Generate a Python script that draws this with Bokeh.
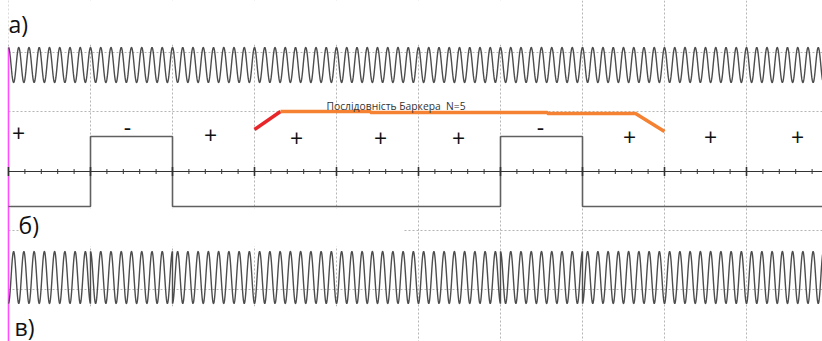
import numpy as np
from bokeh.plotting import figure
from bokeh.models import Range1d
from bokeh.core.properties import value
from bokeh.embed import file_html
from bokeh.resources import INLINE

# ---------------- data ----------------
symbols = [1, -1, 1, 1, 1, 1, -1, 1, 1, 1]          # +1 = "+", -1 = "-"
symbol_text = ["+", "-", "+", "+", "+", "+", "-", "+", "+", "+"]
cycles_per_bit = 8
n_bits = 10
minor_per_bit = 5
barker_start, barker_end = 3, 8
barker_title = "Послідовність Баркера\u00a0\u00a0N=5"
panel_labels = ["а)", "б)", "в)"]

# ---------------- layout (pixels) ----------------
PX_PER_BIT = 82.0
X0 = 8.0
W, H = 822, 341
def bx(px):  # pixel x -> bit units
    return (px - X0) / PX_PER_BIT

p = figure(width=W, height=H, output_backend="svg", toolbar_location=None,
           x_range=Range1d(bx(0), bx(W)), y_range=Range1d(H, 0),
           min_border=0, outline_line_color=None)
p.axis.visible = False
p.grid.visible = False
p.background_fill_color = "white"

grid_col = "#b5b5b5"
# vertical dotted grid
gx = np.arange(0, n_bits + 1)
p.segment(x0=gx, y0=[0] * len(gx), x1=gx, y1=[345] * len(gx),
          line_color=grid_col, line_dash="2 2", line_width=1)
# horizontal dotted grid
for gy in [52, 111, 230, 289]:
    p.segment(x0=[0], y0=[gy], x1=[12], y1=[gy], line_color=grid_col, line_dash="2 2", line_width=1)

# white label boxes covering grid
p.quad(left=[bx(8)], right=[bx(540)], top=[0], bottom=[44], fill_color="white", line_color=None)
p.quad(left=[bx(19)], right=[bx(403)], top=[208], bottom=[246], fill_color="white", line_color=None)
p.quad(left=[bx(8)], right=[bx(412)], top=[306], bottom=[345], fill_color="white", line_color=None)

# magenta marker
p.segment(x0=[0], y0=[47], x1=[0], y1=[345], line_color="#ff4dff", line_width=1.6)

wave_col = "#4d4d4d"
# a) carrier
t = np.linspace(0, bx(W), 4000)
ya = 64.5 - 17.5 * np.cos(2 * np.pi * cycles_per_bit * t)
p.line(t, ya, line_color=wave_col, line_width=1.4)

# б) modulating square wave
sq_x, sq_y = [], []
for i, s in enumerate(symbols):
    lvl = 206 if s > 0 else 136
    sq_x += [i, i + 1]
    sq_y += [lvl, lvl]
p.line(sq_x, sq_y, line_color="#606060", line_width=1.6)

# axis line with ticks
p.segment(x0=[0], y0=[171], x1=[bx(W)], y1=[171], line_color="#333333", line_width=1)
mx = np.arange(0, n_bits * minor_per_bit + 1) / minor_per_bit
major = (np.arange(len(mx)) % minor_per_bit) == 0
p.segment(x0=mx, y0=np.where(major, 166.5, 168.5), x1=mx, y1=np.where(major, 175.5, 173.5),
          line_color="#333333", line_width=np.where(major, 1.6, 1.0).tolist())

# в) phase-modulated signal
vx, vy = [], []
for i, s in enumerate(symbols):
    tt = np.linspace(i, i + 1, 400)
    vx.append(tt)
    vy.append(277 + 26 * s * np.cos(2 * np.pi * cycles_per_bit * tt))
vx = np.concatenate(vx); vy = np.concatenate(vy)
p.line(vx, vy, line_color=wave_col, line_width=1.4)

# Barker bracket
p.line([barker_start, bx(280)], [129, 111], line_color="#e8262a", line_width=3.5)
p.line([bx(280), bx(370), bx(370), bx(547), bx(547), bx(635), barker_end],
       [111, 111, 112, 112, 113, 113, 131], line_color="#f58232", line_width=3.5)
p.text(x=[bx(326)], y=[105], text=[barker_title], text_font=value("Open Sans"),
       text_font_size="10.3px", text_color="#333333", text_baseline="middle")

# +/- labels
lab_x = [18, 127, 210, 296, 380, 458, 540, 629, 710, 797]
lab_y = [133, 127, 135, 138, 138, 138, 127, 137, 137, 137]
p.text(x=[bx(v) for v in lab_x], y=lab_y, text=symbol_text, text_font=value("Open Sans"),
       text_font_size="23px", text_color="#111111", text_align="center", text_baseline="middle")

# panel labels
p.text(x=[bx(8), bx(18), bx(14)], y=[23, 224, 326], text=panel_labels,
       text_font=value("Open Sans"), text_font_size="23px", text_color="#111111",
       text_baseline="middle")

open("out.html", "w").write(file_html(p, INLINE))
